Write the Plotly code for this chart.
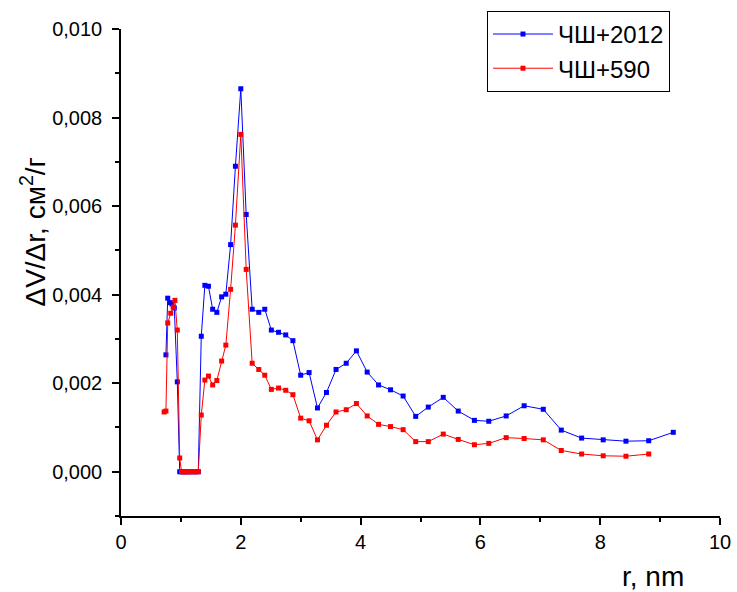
import plotly.graph_objects as go

# ЧШ+2012 (blue)
x_blue = [0.75, 0.78, 0.82, 0.85, 0.89, 0.94, 0.98, 1.01, 1.04, 1.07, 1.10, 1.13, 1.17, 1.21, 1.25, 1.29,
          1.34, 1.40, 1.46, 1.53, 1.60, 1.68, 1.75, 1.83, 1.91, 2.00, 2.09, 2.19, 2.30, 2.40, 2.51, 2.63,
          2.75, 2.87, 3.00, 3.14, 3.28, 3.43, 3.59, 3.76, 3.93, 4.11, 4.30, 4.50, 4.71, 4.92, 5.13, 5.38,
          5.63, 5.90, 6.14, 6.43, 6.73, 7.05, 7.35, 7.69, 8.05, 8.43, 8.81, 9.22]
y_blue = [0.00264, 0.00392, 0.00382, 0.00379, 0.00370, 0.00203, 0.0, 0.0, 0.0, 0.0, 0.0, 0.0, 0.0, 0.0, 0.0, 0.0,
          0.00306, 0.00421, 0.00419, 0.00367, 0.00360, 0.00395, 0.00401, 0.00513, 0.00690, 0.00865, 0.00581,
          0.00367, 0.00360, 0.00367, 0.00320, 0.00315, 0.00309, 0.00296, 0.00218, 0.00224, 0.00144, 0.00179,
          0.00231, 0.00245, 0.00273, 0.00225, 0.00196, 0.00185, 0.00171, 0.00125, 0.00146, 0.00168, 0.00137,
          0.00116, 0.00114, 0.00126, 0.00149, 0.00141, 0.00094, 0.00076, 0.00072, 0.00069, 0.00070, 0.00089]

# ЧШ+590 (red)
x_red = [0.72, 0.75, 0.78, 0.83, 0.87, 0.90, 0.94, 0.98, 1.01, 1.04, 1.07, 1.10, 1.13, 1.17, 1.21, 1.25, 1.29,
         1.34, 1.40, 1.46, 1.53, 1.60, 1.68, 1.75, 1.83, 1.91, 2.00, 2.09, 2.19, 2.30, 2.40, 2.51, 2.63,
         2.75, 2.87, 3.00, 3.14, 3.28, 3.43, 3.59, 3.76, 3.93, 4.11, 4.30, 4.50, 4.71, 4.92, 5.13, 5.38,
         5.63, 5.90, 6.14, 6.43, 6.73, 7.05, 7.35, 7.69, 8.05, 8.43, 8.81]
y_red = [0.00135, 0.00137, 0.00336, 0.00358, 0.00372, 0.00387, 0.00320, 0.00031, 0.0, 0.0, 0.0, 0.0, 0.0, 0.0,
         0.0, 0.0, 0.0, 0.00128, 0.00207, 0.00216, 0.00196, 0.00206, 0.00250, 0.00286, 0.00412, 0.00557,
         0.00762, 0.00457, 0.00245, 0.00231, 0.00218, 0.00186, 0.00189, 0.00184, 0.00174, 0.00121, 0.00115,
         0.00072, 0.00105, 0.00135, 0.00140, 0.00154, 0.00126, 0.00107, 0.00102, 0.00095, 0.00068, 0.00068,
         0.00085, 0.00073, 0.00061, 0.00064, 0.00077, 0.00075, 0.00072, 0.00048, 0.00040, 0.00036, 0.00035,
         0.00040]

FONT = "Liberation Sans, Arial, sans-serif"

fig = go.Figure()
fig.add_trace(go.Scatter(x=x_blue, y=y_blue, mode="lines+markers", name="ЧШ+2012",
                         line=dict(color="#0000ff", width=1),
                         marker=dict(symbol="square", size=5, color="#0000ff")))
fig.add_trace(go.Scatter(x=x_red, y=y_red, mode="lines+markers", name="ЧШ+590",
                         line=dict(color="#ff0000", width=1),
                         marker=dict(symbol="square", size=5, color="#ff0000")))

fig.update_layout(
    width=737, height=592,
    margin=dict(l=121, r=17, t=28, b=76),
    paper_bgcolor="white", plot_bgcolor="white",
    separators=",.",
    font=dict(family=FONT, size=20, color="black"),
    showlegend=True,
    legend=dict(x=0.611, y=1.035, xanchor="left", yanchor="top",
                bordercolor="black", borderwidth=1, bgcolor="white",
                font=dict(family=FONT, size=24), itemwidth=60,
                tracegroupgap=0),
)
fig.update_xaxes(range=[0, 10], dtick=2, tick0=0, showgrid=False, zeroline=False,
                 automargin=False,
                 showline=True, linecolor="black", linewidth=1.5,
                 ticks="outside", ticklen=7, tickwidth=1.5, tickcolor="black",
                 ticklabeloverflow="allow",
                 minor=dict(ticks="outside", dtick=1, ticklen=4, tickwidth=1.5, tickcolor="black"),
                 tickfont=dict(family=FONT, size=20))
fig.update_yaxes(range=[-0.001, 0.010], dtick=0.002, tick0=0, tickformat=".3f",
                 showgrid=False, zeroline=False, automargin=False,
                 showline=True, linecolor="black", linewidth=1.5,
                 ticks="outside", ticklen=7, tickwidth=1.5, tickcolor="black",
                 ticklabelstandoff=6, ticklabeloverflow="allow",
                 minor=dict(ticks="outside", dtick=0.001, ticklen=4, tickwidth=1.5, tickcolor="black"),
                 tickfont=dict(family=FONT, size=20))
fig.add_annotation(text="ΔV/Δr, см<sup>2</sup>/г", xref="paper", yref="paper",
                   x=-0.147, y=0.584, xanchor="center", yanchor="middle", textangle=-90,
                   showarrow=False, font=dict(family=FONT, size=28))
fig.add_annotation(text="r, nm", xref="paper", yref="paper", x=0.888, y=-0.088,
                   xanchor="center", yanchor="top", showarrow=False,
                   font=dict(family=FONT, size=28))

fig.write_html("out.html", config={"displayModeBar": False},
               post_script="document.body.style.margin='0';document.body.style.overflow='hidden';")
